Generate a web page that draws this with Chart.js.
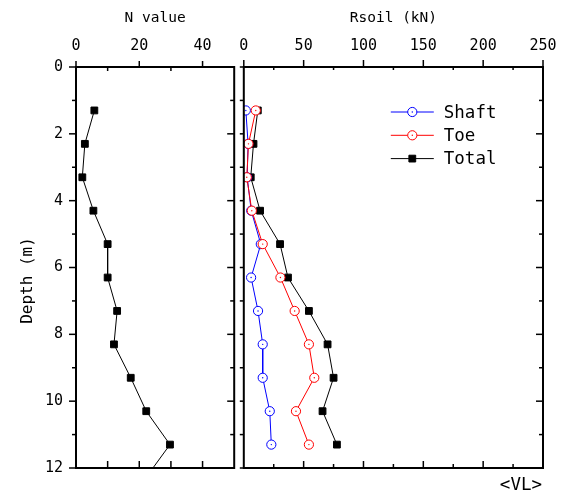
<html>
<head>
<title>N value / Rsoil vs depth</title>
<script src="https://cdn.jsdelivr.net/npm/chart.js@4.4.1/dist/chart.umd.min.js"></script>
<style>
  body { margin: 0; background: #fff; }
  #wrap { position: relative; width: 565px; height: 495px; }
  canvas { position: absolute; top: 0; }
  #nChart { left: 0; }
  #rChart { left: 238px; }
</style>
</head>
<body>
<div id="wrap">
  <canvas id="nChart" width="240" height="495"></canvas>
  <canvas id="rChart" width="327" height="495"></canvas>
</div>
<script>
// depths of the test points (m)
var depths = [1.3, 2.3, 3.3, 4.3, 5.3, 6.3, 7.3, 8.3, 9.3, 10.3, 11.3];
// N value profile, last point lies below the 12 m limit and is clipped
var nDepths = [1.3, 2.3, 3.3, 4.3, 5.3, 6.3, 7.3, 8.3, 9.3, 10.3, 11.3, 12.3];
var nValues = [5.8, 2.8, 2.0, 5.5, 10.0, 10.0, 13.0, 12.0, 17.3, 22.2, 29.7, 22.0];
// Rsoil (kN)
var shaft = [1.7, 3.6, 2.8, 6.2, 14.2, 6.1, 11.9, 15.8, 15.8, 21.7, 23.0];
var toe   = [10.0, 3.9, 2.5, 6.7, 15.8, 30.6, 42.5, 54.4, 58.9, 43.6, 54.4];
var total = [11.7, 8.1, 5.8, 13.6, 30.3, 36.9, 54.4, 70.0, 75.0, 65.8, 77.8];

// tick values
var depthTicks = [0, 2, 4, 6, 8, 10, 12];
var depthMinor = [1, 3, 5, 7, 9, 11];
var nTicks = [0, 20, 40];
var nMinor = [10, 30];
var rTicks = [0, 50, 100, 150, 200, 250];
var rMinor = [25, 75, 125, 175, 225];

var MONO = "'DejaVu Sans Mono', 'Liberation Mono', monospace";
Chart.defaults.color = '#000';
Chart.defaults.font.family = MONO;

function pts(xs, ys) {
    var out = [];
    for (var i = 0; i < xs.length; i++) out.push({ x: xs[i], y: ys[i] });
    return out;
}

// frame + tick marks; len > 0 points outward, len < 0 points inward
function frameTicks(spec) {
    return {
        id: 'frameTicks',
        afterDraw: function (chart) {
            var ctx = chart.ctx, a = chart.chartArea;
            var xs = chart.scales.x, ys = chart.scales.y;
            ctx.save();
            ctx.strokeStyle = '#000';
            ctx.lineWidth = 2;
            ctx.strokeRect(a.left, a.top, a.right - a.left, a.bottom - a.top);
            ctx.lineWidth = 1.5;
            spec.forEach(function (s) {
                var side = s[0], values = s[1], len = s[2];
                values.forEach(function (v) {
                    ctx.beginPath();
                    if (side === 'top' || side === 'bottom') {
                        var px = xs.getPixelForValue(v);
                        var y0 = side === 'top' ? a.top : a.bottom;
                        var dir = side === 'top' ? -1 : 1;
                        ctx.moveTo(px, y0);
                        ctx.lineTo(px, y0 + dir * len);
                    } else {
                        var py = ys.getPixelForValue(v);
                        var x0 = side === 'left' ? a.left : a.right;
                        var d = side === 'left' ? -1 : 1;
                        ctx.moveTo(x0, py);
                        ctx.lineTo(x0 + d * len, py);
                    }
                    ctx.stroke();
                });
            });
            ctx.restore();
        }
    };
}

// small dot in the centre of the open circles
var centerDots = {
    id: 'centerDots',
    afterDatasetDraw: function (chart, args) {
        var ds = chart.data.datasets[args.index];
        if (ds.pointStyle !== 'circle') return;
        var ctx = chart.ctx;
        ctx.save();
        ctx.fillStyle = ds.borderColor;
        args.meta.data.forEach(function (p) {
            ctx.beginPath();
            ctx.arc(p.x, p.y, 0.7, 0, Math.PI * 2);
            ctx.fill();
        });
        ctx.restore();
    }
};

var depthLabel = {
    id: 'depthLabel',
    afterDraw: function (chart) {
        var ctx = chart.ctx, a = chart.chartArea;
        ctx.save();
        ctx.translate(28, (a.top + a.bottom) / 2 + 13);
        ctx.rotate(-Math.PI / 2);
        ctx.font = '16px ' + MONO;
        ctx.fillStyle = '#000';
        ctx.textAlign = 'center';
        ctx.textBaseline = 'middle';
        ctx.fillText('Depth (m)', 0, 0);
        ctx.restore();
    }
};

var rLegend = {
    id: 'rLegend',
    afterDraw: function (chart) {
        var ctx = chart.ctx, a = chart.chartArea;
        var x0 = a.left + 147, y0 = a.top + 45, step = 23.3;
        ctx.save();
        chart.data.datasets.forEach(function (ds, i) {
            var y = y0 + i * step;
            ctx.strokeStyle = ds.borderColor;
            ctx.lineWidth = 1;
            ctx.beginPath();
            ctx.moveTo(x0, y);
            ctx.lineTo(x0 + 43, y);
            ctx.stroke();
            var cx = x0 + 21.5;
            ctx.lineWidth = ds.pointBorderWidth;
            ctx.fillStyle = ds.pointBackgroundColor;
            ctx.strokeStyle = ds.pointBorderColor;
            ctx.beginPath();
            if (ds.pointStyle === 'circle') {
                ctx.arc(cx, y, ds.pointRadius, 0, Math.PI * 2);
                ctx.fill();
                ctx.stroke();
                ctx.fillStyle = ds.borderColor;
                ctx.beginPath();
                ctx.arc(cx, y, 0.7, 0, Math.PI * 2);
                ctx.fill();
            } else {
                var h = ds.pointRadius * Math.SQRT1_2;
                ctx.rect(cx - h, y - h, 2 * h, 2 * h);
                ctx.fill();
                ctx.stroke();
            }
            ctx.fillStyle = '#000';
            ctx.font = '17.5px ' + MONO;
            ctx.textAlign = 'left';
            ctx.textBaseline = 'middle';
            ctx.fillText(ds.label, x0 + 53, y + 1);
        });
        ctx.font = '17.5px ' + MONO;
        ctx.textAlign = 'right';
        ctx.textBaseline = 'middle';
        ctx.fillText('<VL>', a.right - 1, a.bottom + 17);
        ctx.restore();
    }
};

var tickFont = { size: 15, family: MONO };
var titleFont = { size: 14.5, family: MONO };

function depthAxis(display) {
    return {
        type: 'linear',
        reverse: true,
        min: 0,
        max: 12,
        display: display,
        grid: { display: false, drawTicks: false },
        border: { display: false },
        ticks: { font: tickFont, padding: 13, autoSkip: false },
        afterBuildTicks: function (s) { s.ticks = depthTicks.map(function (v) { return { value: v }; }); },
        afterFit: function (s) { s.width = display ? 76 : 0; }
    };
}

function topAxis(max, ticks, title) {
    return {
        type: 'linear',
        position: 'top',
        min: 0,
        max: max,
        grid: { display: false, drawTicks: false },
        border: { display: false },
        ticks: { font: tickFont, padding: 12, autoSkip: false, maxRotation: 0 },
        title: { display: true, text: title, font: titleFont, padding: { top: 10, bottom: 0 } },
        afterBuildTicks: function (s) { s.ticks = ticks.map(function (v) { return { value: v }; }); },
        afterFit: function (s) { s.height = 67; s.paddingLeft = 0; s.paddingRight = 0; }
    };
}

var common = {
    responsive: false,
    animation: false,
    devicePixelRatio: 1,
    plugins: { legend: { display: false }, tooltip: { enabled: false } }
};

new Chart(document.getElementById('nChart'), {
    type: 'scatter',
    data: {
        datasets: [{
            label: 'N value',
            data: pts(nValues, nDepths),
            showLine: true,
            borderColor: '#000',
            borderWidth: 1,
            pointStyle: 'rect',
            pointRadius: 4.8,
            pointBorderWidth: 1,
            pointBackgroundColor: '#000',
            pointBorderColor: '#000'
        }]
    },
    options: Object.assign({}, common, {
        layout: { padding: { left: 0, right: 4, top: 0, bottom: 27 } },
        scales: { x: topAxis(50, nTicks, 'N value'), y: depthAxis(true) }
    }),
    plugins: [frameTicks([
        ['top', nTicks, 6], ['top', nMinor, -4],
        ['bottom', nMinor.concat([20, 40]), -7],
        ['left', depthTicks, 7], ['left', depthMinor, 4],
        ['right', depthTicks, -7], ['right', depthMinor, -4]
    ]), depthLabel]
});

function circleSet(label, values, color, order) {
    return {
        label: label,
        data: pts(values, depths),
        showLine: true,
        order: order,
        borderColor: color,
        borderWidth: 1,
        pointStyle: 'circle',
        pointRadius: 4.6,
        pointBorderWidth: 1,
        pointBackgroundColor: '#fff',
        pointBorderColor: color
    };
}

new Chart(document.getElementById('rChart'), {
    type: 'scatter',
    data: {
        datasets: [
            circleSet('Shaft', shaft, '#0000ff', 1),
            circleSet('Toe', toe, '#ff0000', 0),
            {
                label: 'Total',
                data: pts(total, depths),
                showLine: true,
                order: 2,
                borderColor: '#000',
                borderWidth: 1,
                pointStyle: 'rect',
                pointRadius: 4.8,
                pointBorderWidth: 1,
                pointBackgroundColor: '#000',
                pointBorderColor: '#000'
            }
        ]
    },
    options: Object.assign({}, common, {
        layout: { padding: { left: 5, right: 22, top: 0, bottom: 27 } },
        scales: { x: topAxis(250, rTicks, 'Rsoil (kN)'), y: depthAxis(false) }
    }),
    plugins: [frameTicks([
        ['top', rTicks, 7], ['top', rMinor, -3],
        ['bottom', rTicks.slice(1, -1), -7], ['bottom', rMinor, -4],
        ['left', depthTicks.concat(depthMinor), 4],
        ['right', depthTicks, -7], ['right', depthMinor, -4]
    ]), centerDots, rLegend]
});
</script>
</body>
</html>
